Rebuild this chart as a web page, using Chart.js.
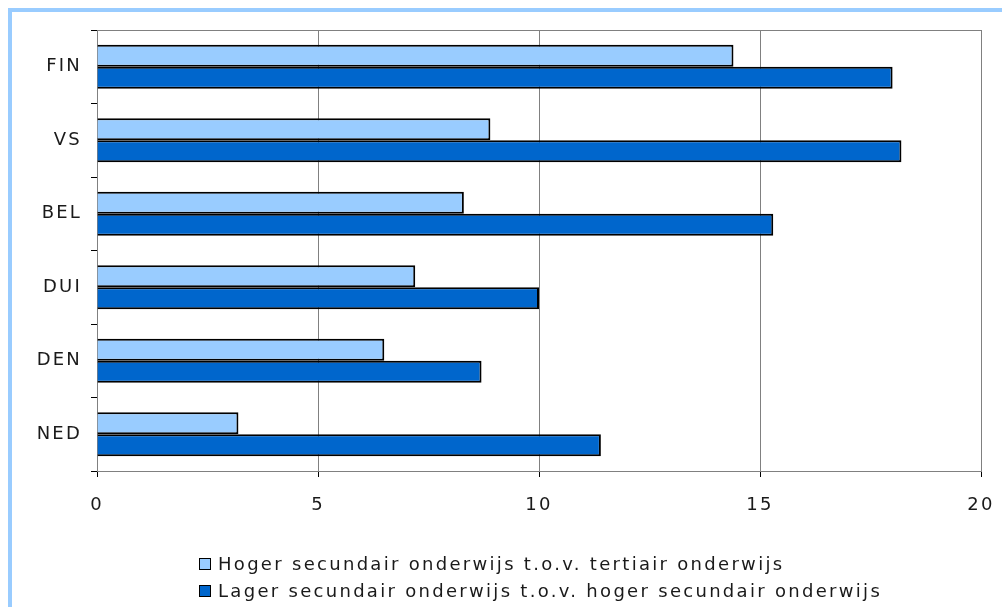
<!DOCTYPE html>
<html>
<head>
<meta charset="utf-8">
<script src="https://cdn.jsdelivr.net/npm/chart.js@4"></script>
<style>
  html, body { margin: 0; padding: 0; background: #fff; overflow: hidden; }
  #wrap { position: relative; width: 1002px; height: 607px; }
  #frame { position: absolute; left: 8px; top: 8px; width: 1200px; height: 800px; border: 4px solid #99CCFF; box-sizing: border-box; }
  #myChart { position: absolute; left: 0; top: 0; }
  #legend { position: absolute; left: 199px; top: 550px; font-family: "DejaVu Sans", Verdana, sans-serif; font-size: 18px; letter-spacing: 2.3px; color: #1a1a1a; line-height: 27px; white-space: nowrap; }
  #legend .box { display: inline-block; width: 10px; height: 10px; border: 1.5px solid #000; margin-right: 7px; vertical-align: 0px; }
</style>
</head>
<body>
<div id="wrap">
  <div id="frame"></div>
  <canvas id="myChart" width="1002" height="607"></canvas>
  <div id="legend"></div>
</div>
<script>
var labels = ['FIN', 'VS', 'BEL', 'DUI', 'DEN', 'NED'];
var hogerData = [14.4, 8.9, 8.3, 7.2, 6.5, 3.2];
var lagerData = [18.0, 18.2, 15.3, 10.0, 8.7, 11.4];
var seriesNames = ['Hoger secundair onderwijs t.o.v. tertiair onderwijs', 'Lager secundair onderwijs t.o.v. hoger secundair onderwijs'];
var colors = ['#99CCFF', '#0066CC'];
var xTicks = [0, 5, 10, 15, 20];

// grey frame round the plot area, and wider letter spacing for the canvas text
var plotBorder = {
	id: 'plotBorder',
	beforeDraw: function(chart) {
		chart.ctx.letterSpacing = '2.2px';
	},
	beforeDatasetsDraw: function(chart) {
		var a = chart.chartArea;
		var c = chart.ctx;
		c.save();
		c.strokeStyle = '#808080';
		c.lineWidth = 1;
		c.strokeRect(a.left + 0.5, a.top + 0.5, a.right - a.left, a.bottom - a.top);
		c.restore();
	}
};

var ctx = document.getElementById('myChart').getContext('2d');
var chart = new Chart(ctx, {
	type: 'bar',
	data: {
		labels: labels,
		datasets: [
		{
			label: seriesNames[0],
			data: hogerData,
			backgroundColor: colors[0],
			borderColor: '#000',
			borderWidth: 2,
			categoryPercentage: 0.6,
			barPercentage: 1
		},
		{
			label: seriesNames[1],
			data: lagerData,
			backgroundColor: colors[1],
			borderColor: '#000',
			borderWidth: 2,
			categoryPercentage: 0.6,
			barPercentage: 1
		}]
	},
	options: {
		indexAxis: 'y',
		responsive: false,
		animation: false,
		layout: { padding: { left: 0, right: 21, top: 30, bottom: 86 } },
		plugins: {
			legend: { display: false },
			tooltip: { enabled: false }
		},
		scales: {
			x: {
				min: 0,
				max: 20,
				afterBuildTicks: function(scale) {
					scale.ticks = xTicks.map(function(v) { return { value: v }; });
				},
				afterFit: function(scale) {
					scale.height = 50;
					scale.paddingLeft = 0;
					scale.paddingRight = 0;
				},
				grid: { color: '#808080', tickLength: 6, tickColor: '#000' },
				border: { color: '#000', width: 1 },
				ticks: {
					color: '#1a1a1a',
					padding: 18,
					font: { family: 'DejaVu Sans', size: 18 }
				}
			},
			y: {
				afterFit: function(scale) {
					scale.width = 97;
					scale.paddingTop = 0;
					scale.paddingBottom = 0;
				},
				grid: { drawOnChartArea: false, tickLength: 6, color: '#000', offset: true },
				border: { color: '#000', width: 1 },
				ticks: {
					color: '#1a1a1a',
					padding: 9,
					font: { family: 'DejaVu Sans', size: 18 }
				}
			}
		}
	},
	plugins: [plotBorder]
});

var legend = document.getElementById('legend');
seriesNames.forEach(function(name, i) {
	var row = document.createElement('div');
	var box = document.createElement('span');
	box.className = 'box';
	box.style.background = colors[i];
	row.appendChild(box);
	row.appendChild(document.createTextNode(name));
	legend.appendChild(row);
});
</script>
</body>
</html>
